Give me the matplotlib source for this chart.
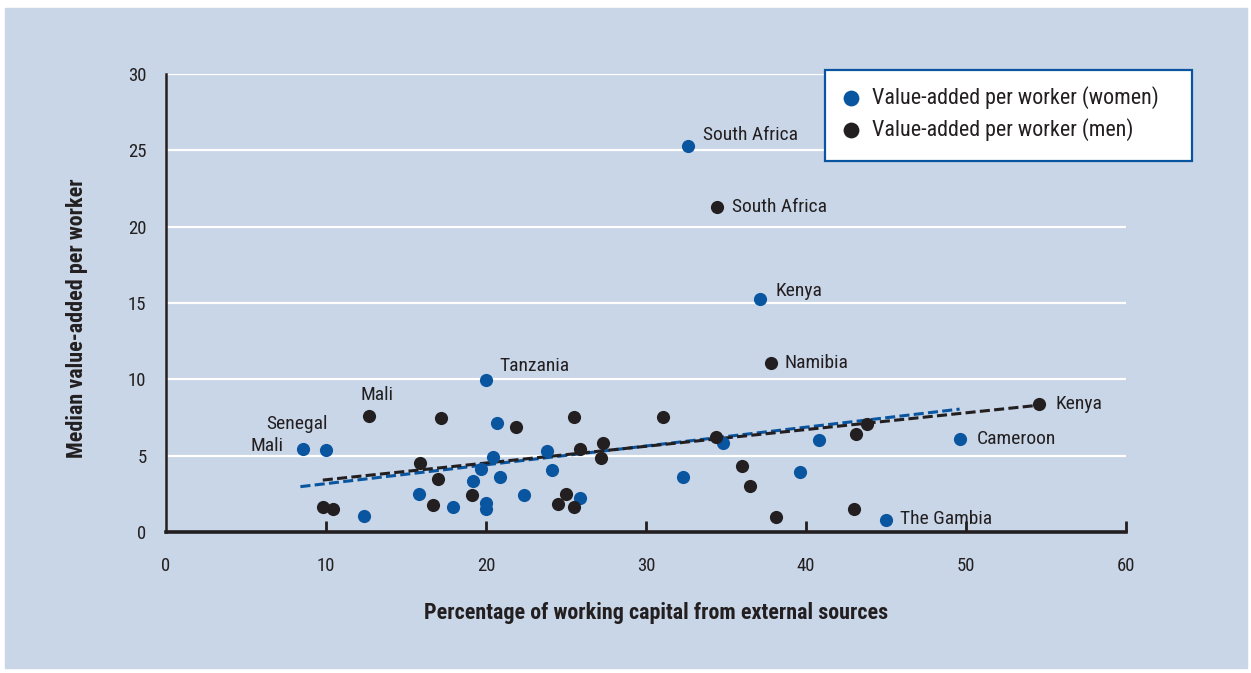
import matplotlib.pyplot as plt
from matplotlib.patches import Rectangle

plt.rcParams['font.family'] = ['Roboto Condensed', 'Archivo Narrow', 'DejaVu Sans']

# 女性 / 男性 数据点
women_x = [8.56, 10.0, 12.38, 15.81, 17.94, 19.19, 19.69, 20.0, 20.0, 20.0, 20.44, 20.69,
           20.88, 22.38, 23.81, 24.13, 25.88, 32.31, 32.63, 34.81, 37.13, 39.63, 40.81,
           49.63, 45.0]
women_y = [5.44, 5.37, 1.05, 2.49, 1.64, 3.34, 4.13, 9.95, 1.90, 1.51, 4.91, 7.14,
           3.60, 2.42, 5.30, 4.06, 2.23, 3.60, 25.28, 5.83, 15.26, 3.93, 6.02,
           6.09, 0.79]
men_x = [12.69, 17.19, 15.88, 17.0, 16.69, 19.13, 9.81, 10.44, 21.88, 25.5, 25.88, 27.31,
         27.19, 25.0, 24.5, 25.5, 31.06, 34.38, 36.0, 36.5, 38.13, 43.13, 43.81, 43.0,
         54.56, 34.44, 37.81]
men_y = [7.60, 7.47, 4.52, 3.47, 1.77, 2.42, 1.64, 1.51, 6.88, 7.53, 5.44, 5.83,
         4.85, 2.49, 1.83, 1.64, 7.53, 6.22, 4.32, 3.01, 0.98, 6.42, 7.07, 1.51,
         8.38, 21.28, 11.07]

# 趋势线端点
trend_women_x = [8.4, 49.6]
trend_women_y = [2.97, 8.05]
trend_men_x = [9.8, 54.5]
trend_men_y = [3.40, 8.30]

# 国家标注: (名称, 点序号, 偏移, 对齐)
women_labels = [('Mali', 0, (-14, 2), 'right'), ('Senegal', 1, (1, 19), 'right'),
                ('Tanzania', 7, (10, 10), 'left'), ('South Africa', 18, (11, 8), 'left'),
                ('Kenya', 20, (11, 6), 'left'), ('Cameroon', 23, (12, 0), 'left'),
                ('The Gambia', 24, (10, 1), 'left')]
men_labels = [('Mali', 0, (6, 15), 'center'), ('Kenya', 24, (12, 0), 'left'),
              ('South Africa', 25, (11, 0), 'left'), ('Namibia', 26, (10, 0), 'left')]

blue = '#0a559f'
black = '#231f20'
bg = '#c9d6e8'
W, H = 1251, 673

fig = plt.figure(figsize=(W / 100, H / 100), dpi=100)
fig.patches.append(Rectangle((5 / W, 1 - 668 / H), 1242 / W, 660 / H,
                             transform=fig.transFigure, color=bg, zorder=-10))
ax = fig.add_axes([166 / W, 1 - 532 / H, 960 / W, 458 / H])
ax.set_zorder(1)
ax.patch.set_alpha(0)

ax.set_xlim(0, 60)
ax.set_ylim(0, 30)
for y in range(5, 31, 5):
    ax.axhline(y, color='white', lw=1.6, zorder=1)

ax.plot(trend_women_x, trend_women_y, color=blue, lw=2.2, dashes=(3.3, 1.4), zorder=3)
ax.plot(trend_men_x, trend_men_y, color=black, lw=2.2, dashes=(3.3, 1.4), zorder=3)

ax.scatter(women_x, women_y, s=90, color=blue, lw=0, zorder=4, clip_on=False,
           label='Value-added per worker (women)')
ax.scatter(men_x, men_y, s=90, color=black, lw=0, zorder=4, clip_on=False,
           label='Value-added per worker (men)')

for name, i, off, ha in women_labels:
    ax.annotate(name, (women_x[i], women_y[i]), xytext=off, textcoords='offset points',
                ha=ha, va='center', fontsize=14, color=black)
for name, i, off, ha in men_labels:
    ax.annotate(name, (men_x[i], men_y[i]), xytext=off, textcoords='offset points',
                ha=ha, va='center', fontsize=14, color=black)

for s in ['top', 'right']:
    ax.spines[s].set_visible(False)
ax.spines['left'].set_linewidth(1.8)
ax.spines['bottom'].set_linewidth(2.6)
ax.spines['left'].set_color(black)
ax.spines['bottom'].set_color(black)

ax.set_xticks(range(0, 61, 10))
ax.set_yticks(range(0, 31, 5))
ax.tick_params(axis='x', direction='in', length=8, width=2, color=black, pad=18,
               labelsize=13.5, labelcolor=black)
ax.tick_params(axis='y', length=0, pad=14, labelsize=13.5, labelcolor=black)
ax.xaxis.get_major_ticks()[0].tick1line.set_visible(False)

ax.set_xlabel('Percentage of working capital from external sources', fontsize=15.8,
              fontweight='bold', color=black)
ax.set_ylabel('Median value-added per worker', fontsize=15.8, fontweight='bold',
              color=black)
ax.xaxis.set_label_coords(0.511, -0.152)
ax.yaxis.set_label_coords(-0.081, 0.467)

# 图例框 (单独画, 让内容偏左)
ax.add_patch(Rectangle((825 / W, 1 - 161 / H), 367 / W, 91 / H,
                       transform=fig.transFigure, facecolor='white',
                       edgecolor=blue, lw=1.6, zorder=5, clip_on=False))
leg = ax.legend(loc='upper left', bbox_to_anchor=(842 / W, 1 - 86 / H),
                bbox_transform=fig.transFigure, borderaxespad=0, borderpad=0,
                frameon=False, fontsize=15.8, handlelength=0.8, handletextpad=0.55,
                labelspacing=0.4, scatterpoints=1, markerscale=1.2)
leg.set_zorder(6)
for t in leg.get_texts():
    t.set_color(black)

fig.savefig('out.png', dpi=100)
